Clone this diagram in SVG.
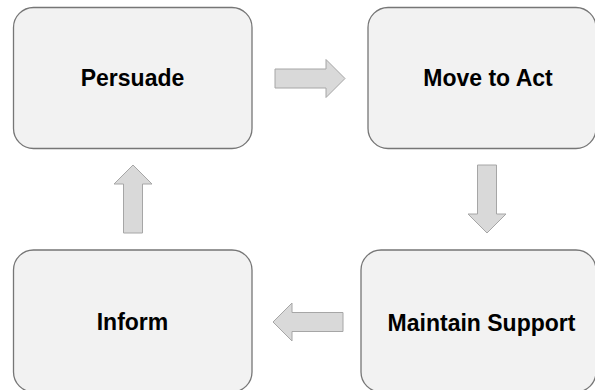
<svg xmlns="http://www.w3.org/2000/svg" width="595" height="390" viewBox="0 0 595 390">
<style>
.box{fill:#f2f2f2;stroke:#767676;stroke-width:1.3}
.lbl{font-family:"Liberation Sans",Arial,sans-serif;font-weight:bold;font-size:23px;fill:#000;text-anchor:middle}
.arr{fill:#d9d9d9;stroke:#a6a6a6;stroke-width:1}
</style>
<rect width="595" height="390" fill="#ffffff"/>
<g id="connectors">
<polygon class="arr" points="275,69 326,69 326,59.5 345,78.5 326,97.5 326,88 275,88"/>
<polygon class="arr" points="477.5,165 496.5,165 496.5,214 506,214 487,233 468,214 477.5,214"/>
<polygon class="arr" points="343,312.5 292,312.5 292,303 273,322 292,341 292,331.5 343,331.5"/>
<polygon class="arr" points="123.5,233 142.5,233 142.5,184 152,184 133,165 114,184 123.5,184"/>
</g>
<g id="node-persuade">
<rect class="box" x="13.5" y="7.5" width="238.5" height="141" rx="20" ry="20"/>
<text class="lbl" x="132.5" y="86">Persuade</text>
</g>
<g id="node-move-to-act">
<rect class="box" x="368" y="7.5" width="228" height="141" rx="20" ry="20"/>
<text class="lbl" x="488" y="86">Move to Act</text>
</g>
<g id="node-maintain-support">
<rect class="box" x="361" y="250" width="235" height="142" rx="20" ry="20"/>
<text class="lbl" x="481.5" y="331">Maintain Support</text>
</g>
<g id="node-inform">
<rect class="box" x="13.5" y="250" width="238.5" height="142" rx="20" ry="20"/>
<text class="lbl" x="132.5" y="330">Inform</text>
</g>
</svg>
